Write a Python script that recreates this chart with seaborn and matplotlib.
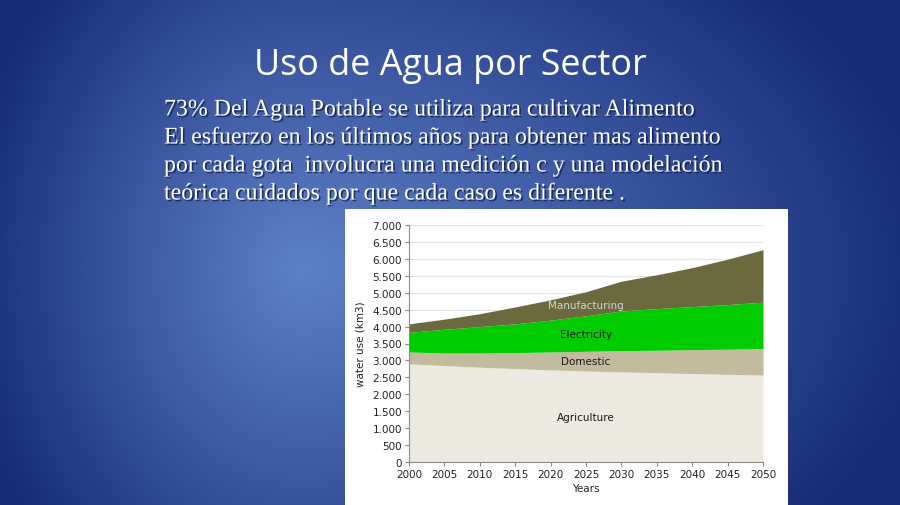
import numpy as np
import pandas as pd
import matplotlib
matplotlib.use("Agg")
import matplotlib.pyplot as plt
import matplotlib.patheffects as pe
from matplotlib.ticker import FuncFormatter
import seaborn as sns

# Data (km3)
years = [2000, 2005, 2010, 2015, 2020, 2025, 2030, 2035, 2040, 2045, 2050]
agriculture = [2900, 2850, 2800, 2760, 2720, 2690, 2660, 2640, 2610, 2590, 2570]
domestic = [350, 370, 420, 470, 530, 580, 630, 660, 710, 740, 780]
electricity = [580, 700, 780, 850, 940, 1050, 1170, 1230, 1270, 1320, 1370]
manufacturing = [250, 300, 380, 500, 600, 710, 880, 1000, 1150, 1340, 1550]

sectors = ["Agriculture", "Domestic", "Electricity", "Manufacturing"]
colors = ["#ECE9E1", "#C3BB9D", "#00CC00", "#6B6A3E"]

title = "Uso de Agua por Sector"
body = ["73% Del Agua Potable se utiliza para cultivar Alimento",
        "El esfuerzo en los últimos años para obtener mas alimento",
        "por cada gota  involucra una medición c y una modelación",
        "teórica cuidados por que cada caso es diferente ."]

df = pd.DataFrame({"Years": years, "Agriculture": agriculture, "Domestic": domestic,
                   "Electricity": electricity, "Manufacturing": manufacturing})

sns.set_theme(style="white")
fig = plt.figure(figsize=(9, 5.06), dpi=100)

# --- slide background (radial blue gradient, lighter left of centre) ---
bg = fig.add_axes([0, 0, 1, 1])
xx, yy = np.meshgrid(np.linspace(0, 900, 450), np.linspace(0, 506, 253))
cx, cy = 300, 270
rx = np.where(xx < cx, 340, 640)
r = np.sqrt(((xx - cx) / rx) ** 2 + ((yy - cy) / 420) ** 2)
r = np.clip(r, 0, 1) ** 1.1
c0 = np.array([0x5C, 0x7F, 0xC6]) / 255
c1 = np.array([0x17, 0x2B, 0x78]) / 255
img = c0[None, None, :] * (1 - r[..., None]) + c1[None, None, :] * r[..., None]
bg.imshow(img, extent=[0, 900, 506, 0], aspect="auto")
bg.set_xlim(0, 900)
bg.set_ylim(506, 0)
bg.axis("off")

fig.text(0.5, 1 - 66 / 506, title, ha="center", va="center", color="white",
         fontsize=25.8, family="Open Sans")
shadow = [pe.withSimplePatchShadow(offset=(1.2, -1.2), shadow_rgbFace="#10204a", alpha=0.8)]
for i, line in enumerate(body):
    fig.text(164 / 900, 1 - (111 + i * 28) / 506, line, ha="left", va="center",
             color="white", fontsize=17.2, family="Liberation Serif", path_effects=shadow)

# white chart panel
panel = plt.Rectangle((345 / 900, 0), 443 / 900, 296 / 506, transform=fig.transFigure,
                      facecolor="white", edgecolor="none", zorder=1)
fig.patches.append(panel)

# --- chart ---
ax = fig.add_axes([409 / 900, 43 / 506, 354 / 900, 237 / 506], zorder=2)
ax.set_facecolor("white")
ax.stackplot(df["Years"], [df[s] for s in sectors], colors=colors, linewidth=0, zorder=2)
ax.set_xlim(2000, 2050)
ax.set_ylim(0, 7000)
ax.set_xticks(years)
ax.set_yticks(np.arange(0, 7001, 500))
ax.yaxis.set_major_formatter(FuncFormatter(lambda v, p: f"{int(v):,}".replace(",", ".")))
ax.grid(axis="y", color="#E3E3E3", linewidth=0.8, zorder=0)
ax.set_axisbelow(True)
for s in ["top", "right"]:
    ax.spines[s].set_visible(False)
for s in ["left", "bottom"]:
    ax.spines[s].set_color("#888888")
    ax.spines[s].set_linewidth(0.8)
ax.tick_params(axis="both", which="both", direction="out", length=3, width=0.8,
               color="#888888", labelsize=7.5, labelcolor="#222222", pad=2)
ax.tick_params(axis="x", bottom=True)
ax.tick_params(axis="y", left=True)
ax.set_xlabel("Years", fontsize=7.5, color="#222222", labelpad=3)
ax.set_ylabel("water use (km3)", fontsize=7.5, color="#222222", labelpad=5)

ax.text(2025, 4650, "Manufacturing", ha="center", va="center", fontsize=7.5, color="#D4D4D0")
ax.text(2025, 3770, "Electricity", ha="center", va="center", fontsize=7.5, color="#1A1A1A")
ax.text(2025, 2970, "Domestic", ha="center", va="center", fontsize=7.5, color="#1A1A1A")
ax.text(2025, 1330, "Agriculture", ha="center", va="center", fontsize=7.5, color="#1A1A1A")

fig.savefig("out.png", dpi=100)
